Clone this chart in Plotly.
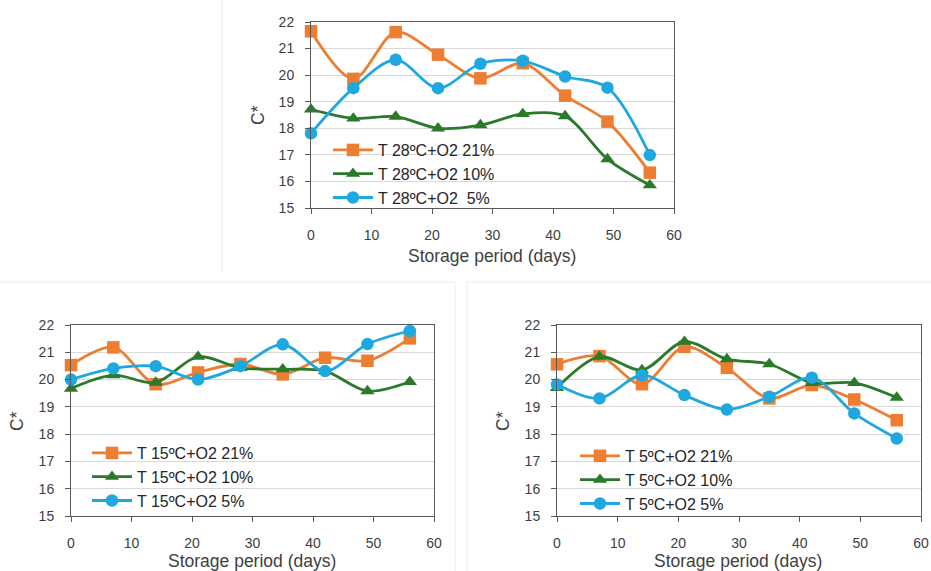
import plotly.graph_objects as go

days = [0, 7, 14, 21, 28, 35, 42, 49, 56]

t28_o21 = [21.65, 19.86, 21.62, 20.77, 19.88, 20.45, 19.23, 18.25, 16.33]
t28_o10 = [18.71, 18.37, 18.44, 18.00, 18.12, 18.54, 18.46, 16.84, 15.86]
t28_o5 = [17.81, 19.51, 20.58, 19.51, 20.43, 20.54, 19.95, 19.53, 16.99]

t15_o21 = [20.53, 21.18, 19.83, 20.26, 20.57, 20.19, 20.80, 20.69, 21.51]
t15_o10 = [19.67, 20.16, 19.89, 20.84, 20.43, 20.38, 20.31, 19.58, 19.92]
t15_o5 = [20.00, 20.41, 20.49, 20.00, 20.49, 21.29, 20.31, 21.30, 21.78]

t5_o21 = [20.56, 20.86, 19.83, 21.20, 20.43, 19.31, 19.80, 19.27, 18.51]
t5_o10 = [19.70, 20.84, 20.35, 21.39, 20.75, 20.57, 19.88, 19.88, 19.34]
t5_o5 = [19.82, 19.31, 20.16, 19.43, 18.90, 19.37, 20.07, 18.76, 17.84]

names28 = ["T 28ºC+O2 21%", "T 28ºC+O2 10%", "T 28ºC+O2  5%"]
names15 = ["T 15ºC+O2 21%", "T 15ºC+O2 10%", "T 15ºC+O2 5%"]
names5 = ["T 5ºC+O2 21%", "T 5ºC+O2 10%", "T 5ºC+O2 5%"]

x_title = "Storage period (days)"
y_title = "C*"

ORANGE = "#ED7D31"
GREEN = "#2B7A2B"
BLUE = "#1FA8E0"
colors = [ORANGE, GREEN, BLUE]
symbols = ["square", "triangle-up", "circle"]
sizes = [12.5, 12.5, 12.5]

FONT = "Liberation Sans, Arial, sans-serif"
W, H = 931, 571
OFF = 0  # body margin removed below, figure sits at the window's corner

fig = go.Figure()

panels = [
    ("x", "y", "legend", [t28_o21, t28_o10, t28_o5], names28),
    ("x2", "y2", "legend2", [t15_o21, t15_o10, t15_o5], names15),
    ("x3", "y3", "legend3", [t5_o21, t5_o10, t5_o5], names5),
]

for xa, ya, lg, series, names in panels:
    for vals, nm, c, s, sz in zip(series, names, colors, symbols, sizes):
        fig.add_trace(go.Scatter(
            x=days, y=vals, name=nm, xaxis=xa, yaxis=ya, legend=lg,
            mode="lines+markers",
            line=dict(color=c, width=2.8, shape="spline", smoothing=0.9),
            marker=dict(color=c, symbol=s, size=sz),
            cliponaxis=False,
        ))

def px_x(p):
    return (p - OFF) / W

def px_y(p):
    return 1 - (p - OFF) / H

def xaxis(dom, anchor):
    return dict(domain=dom, anchor=anchor, range=[0, 60], dtick=10,
                ticks="outside", ticklen=5, tickcolor="#595959",
                linecolor="#595959", linewidth=1, mirror=True,
                showgrid=False, zeroline=False, ticklabelstandoff=9,
                automargin=False,
                tickfont=dict(size=14, color="#404040", family=FONT))

def yaxis(dom, anchor):
    return dict(domain=dom, anchor=anchor, range=[15, 22], dtick=1,
                ticks="outside", ticklen=5, tickcolor="#595959",
                linecolor="#595959", linewidth=1, mirror=True,
                showgrid=True, gridcolor="#d9d9d9", gridwidth=1,
                zeroline=False, ticklabelstandoff=8, automargin=False,
                tickfont=dict(size=14, color="#404040", family=FONT))

boxes = {
    "top": (311, 674, 22, 208),
    "bl": (71, 434, 325, 516),
    "br": (557, 921, 325, 516),
}

def dom(b):
    x0, x1, y0, y1 = b
    return [px_x(x0), px_x(x1)], [px_y(y1), px_y(y0)]

dx1, dy1 = dom(boxes["top"])
dx2, dy2 = dom(boxes["bl"])
dx3, dy3 = dom(boxes["br"])

leg_common = dict(bgcolor="rgba(0,0,0,0)", borderwidth=0,
                  font=dict(size=16, color="#262626", family=FONT),
                  xanchor="left", yanchor="top", itemwidth=40,
                  tracegroupgap=0)

fig.update_layout(
    width=W, height=H,
    template="none",
    margin=dict(l=0, r=0, t=0, b=0, autoexpand=False),
    paper_bgcolor="white", plot_bgcolor="white",
    font=dict(family=FONT),
    showlegend=True,
    hovermode=False,
    xaxis=xaxis(dx1, "y"), yaxis=yaxis(dy1, "x"),
    xaxis2=xaxis(dx2, "y2"), yaxis2=yaxis(dy2, "x2"),
    xaxis3=xaxis(dx3, "y3"), yaxis3=yaxis(dy3, "x3"),
    legend=dict(x=px_x(328), y=px_y(133), **leg_common),
    legend2=dict(x=px_x(87), y=px_y(436), **leg_common),
    legend3=dict(x=px_x(575), y=px_y(439), **leg_common),
)

# axis titles
title_font = dict(size=17.5, color="#404040", family=FONT)
for (xc, yc) in [(492, 256), (252, 561), (738, 561)]:
    fig.add_annotation(x=px_x(xc), y=px_y(yc), xref="paper", yref="paper",
                       xanchor="center", yanchor="middle",
                       text=x_title, showarrow=False, font=title_font)
for (xc, yc) in [(258, 115), (17, 421), (503, 421)]:
    fig.add_annotation(x=px_x(xc), y=px_y(yc), xref="paper", yref="paper",
                       xanchor="center", yanchor="middle",
                       text=y_title, showarrow=False, textangle=-90,
                       font=title_font)

# faint panel frames
sep = dict(color="#ececec", width=1)
for (x0, y0, x1, y1) in [(222, 0, 222, 272), (0, 282, 455, 282),
                         (455, 282, 455, 571), (467, 282, 467, 571),
                         (467, 282, 931, 282)]:
    fig.add_shape(type="line", xref="paper", yref="paper",
                  x0=px_x(x0), y0=px_y(y0), x1=px_x(x1), y1=px_y(y1),
                  line=sep, layer="below")

fig.write_html(
    "out.html",
    config={"displayModeBar": False, "staticPlot": True},
    post_script="document.body.style.margin='0px';"
                "document.documentElement.style.overflow='hidden';",
)
